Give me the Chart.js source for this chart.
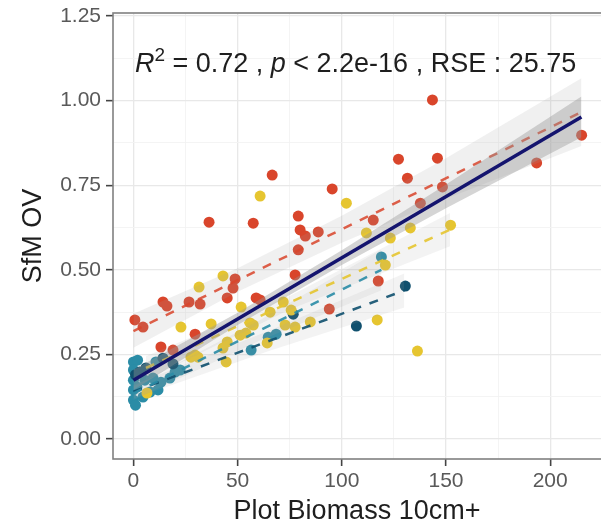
<!DOCTYPE html>
<html>
<head>
<meta charset="utf-8">
<script src="https://cdn.jsdelivr.net/npm/chart.js@4.4.0/dist/chart.umd.min.js"></script>
<style>
  html, body { margin: 0; padding: 0; background: #fff; }
</style>
</head>
<body>
<canvas id="chart" width="601" height="525"></canvas>
<script>
// axis ticks
const xTickValues = [0, 50, 100, 150, 200];
const xTickLabels = ['0', '50', '100', '150', '200'];
const xGridValues = [0, 25, 50, 75, 100, 125, 150, 175, 200];
const yTickValues = [0, 0.25, 0.5, 0.75, 1, 1.25];
const yTickLabels = ['0.00', '0.25', '0.50', '0.75', '1.00', '1.25'];
const yGridValues = [0, 0.125, 0.25, 0.375, 0.5, 0.625, 0.75, 0.875, 1, 1.125, 1.25];

// points
const redX = [0.7, 4.6, 14.2, 16.1, 26.7, 32, 13.2, 19, 29.6, 36.3, 57.5, 48.8, 47.8, 45, 58.9, 60.8, 66.6, 79.1, 80, 82.5, 88.7, 79.1, 77.6, 95.4, 115.1, 137.7, 117.5, 94, 127.2, 131.5, 145.9, 148.3, 143.5, 193.5, 215.1];
const redY = [0.352, 0.331, 0.405, 0.393, 0.405, 0.399, 0.272, 0.263, 0.31, 0.641, 0.638, 0.473, 0.446, 0.417, 0.417, 0.411, 0.78, 0.659, 0.618, 0.6, 0.612, 0.559, 0.485, 0.739, 0.647, 0.697, 0.467, 0.384, 0.827, 0.771, 0.83, 0.745, 1.002, 0.816, 0.898];

const yellowX = [60.8, 102.2, 43, 31.5, 51.7, 22.8, 37.3, 6.5, 29.6, 31, 45, 43, 44.5, 51.2, 56, 65.6, 71.9, 64.2, 57.5, 27.6, 54, 111.8, 123.3, 132.9, 120.9, 75.7, 72.8, 77.6, 84.9, 117, 136.3, 152.2];
const yellowY = [0.718, 0.697, 0.482, 0.449, 0.39, 0.331, 0.34, 0.136, 0.248, 0.242, 0.287, 0.269, 0.228, 0.307, 0.343, 0.375, 0.405, 0.284, 0.337, 0.242, 0.313, 0.609, 0.594, 0.624, 0.514, 0.381, 0.337, 0.331, 0.346, 0.352, 0.26, 0.632];

const tealX = [0, 2, 0, 0, 0, 0, 1, 5.5, 9.4, 13.2, 17.5, 20, 22.4, 11.8, 4.6, 10.8, 1.7, 8, 56.5, 64.7, 68.5, 119];
const tealY = [0.228, 0.233, 0.204, 0.174, 0.145, 0.115, 0.1, 0.174, 0.18, 0.168, 0.18, 0.198, 0.204, 0.145, 0.124, 0.228, 0.154, 0.139, 0.263, 0.301, 0.31, 0.538];

const darkX = [14.2, 3, 107, 130.5, 76.7, 6, 1, 19];
const darkY = [0.239, 0.198, 0.334, 0.452, 0.369, 0.21, 0.19, 0.222];

// fitted lines (end points)
const allFitX = [0, 215];
const allFitY = [0.174, 0.952];
const redFitX = [0, 215];
const redFitY = [0.319, 0.966];
const yellowFitX = [6, 152];
const yellowFitY = [0.21, 0.619];
const tealFitX = [0, 119];
const tealFitY = [0.135, 0.5];
const darkFitX = [0, 130];
const darkFitY = [0.14, 0.439];

// confidence bands
const allBandX = [0, 50, 100, 150, 215];
const allBandLo = [0.145, 0.337, 0.514, 0.682, 0.892];
const allBandHi = [0.205, 0.373, 0.558, 0.752, 1.012];
const redBandX = [0, 50, 100, 150, 215];
const redBandLo = [0.27, 0.435, 0.58, 0.71, 0.866];
const redBandHi = [0.37, 0.505, 0.66, 0.83, 1.066];
const yellowBandX = [6, 75, 152];
const yellowBandLo = [0.175, 0.383, 0.57];
const yellowBandHi = [0.245, 0.423, 0.668];
const tealBandX = [0, 60, 119];
const tealBandLo = [0.115, 0.289, 0.44];
const tealBandHi = [0.155, 0.349, 0.56];
const darkBandX = [0, 65, 130];
const darkBandLo = [0.12, 0.26, 0.389];
const darkBandHi = [0.16, 0.32, 0.489];

const annoX = 0.7;
const annoY = 1.085;

const RED = '#D9452B', YELLOW = '#E6C530', TEAL = '#2A8CA6', DARK = '#10506E';
const FONT = '"Liberation Sans", Arial, sans-serif';

function pts(xs, ys) {
    return xs.map((x, i) => ({x: x, y: ys[i]}));
}

function pointSet(xs, ys, color, order) {
    return {data: pts(xs, ys), backgroundColor: color, borderWidth: 0, pointRadius: 5.5, pointHoverRadius: 5.5, order: order};
}

function lineSet(xs, ys, color, width, dash, order) {
    return {data: pts(xs, ys), showLine: true, borderColor: color, borderWidth: width, borderDash: dash, pointRadius: 0, fill: false, order: order};
}

function bandSets(xs, lo, hi, fillColor, order) {
    return [
        {data: pts(xs, lo), showLine: true, borderWidth: 0, borderColor: 'rgba(0,0,0,0)', pointRadius: 0, fill: false, order: order},
        {data: pts(xs, hi), showLine: true, borderWidth: 0, borderColor: 'rgba(0,0,0,0)', pointRadius: 0, fill: '-1', backgroundColor: fillColor, order: order}
    ];
}

const datasets = [
    pointSet(tealX, tealY, TEAL, 9),
    pointSet(darkX, darkY, DARK, 8),
    pointSet(yellowX, yellowY, YELLOW, 7),
    pointSet(redX, redY, RED, 6),
    ...bandSets(yellowBandX, yellowBandLo, yellowBandHi, 'rgba(160,160,160,0.13)', 4),
    ...bandSets(tealBandX, tealBandLo, tealBandHi, 'rgba(160,160,160,0.13)', 4),
    ...bandSets(darkBandX, darkBandLo, darkBandHi, 'rgba(160,160,160,0.13)', 4),
    ...bandSets(redBandX, redBandLo, redBandHi, 'rgba(160,160,160,0.16)', 4),
    lineSet(yellowFitX, yellowFitY, 'rgba(230,197,48,0.9)', 2.5, [9, 9], 3),
    lineSet(tealFitX, tealFitY, 'rgba(42,140,166,0.9)', 2.5, [9, 9], 3),
    lineSet(darkFitX, darkFitY, 'rgba(16,80,110,0.9)', 2.5, [9, 9], 3),
    lineSet(redFitX, redFitY, 'rgba(217,69,43,0.85)', 2.5, [9, 9], 3),
    ...bandSets(allBandX, allBandLo, allBandHi, 'rgba(150,150,150,0.4)', 1),
    lineSet(allFitX, allFitY, '#14146e', 3.5, [], 0)
];

const panelBorder = {
    id: 'panelBorder',
    afterDatasetsDraw(chart) {
        const {ctx, chartArea} = chart;
        ctx.save();
        ctx.strokeStyle = '#808080';
        ctx.lineWidth = 1.6;
        ctx.strokeRect(chartArea.left, chartArea.top, chartArea.right - chartArea.left + 2, chartArea.bottom - chartArea.top);
        ctx.restore();
    }
};

const annotation = {
    id: 'annotation',
    afterDraw(chart) {
        const ctx = chart.ctx;
        let px = chart.scales.x.getPixelForValue(annoX);
        const py = chart.scales.y.getPixelForValue(annoY);
        const size = 27;
        const parts = [
            {t: 'R', font: 'italic ' + size + 'px ' + FONT, dy: 0},
            {t: '2', font: Math.round(size * 0.7) + 'px ' + FONT, dy: -size * 0.42},
            {t: ' = 0.72 , ', font: size + 'px ' + FONT, dy: 0},
            {t: 'p', font: 'italic ' + size + 'px ' + FONT, dy: 0},
            {t: ' < 2.2e-16 , RSE : 25.75', font: size + 'px ' + FONT, dy: 0}
        ];
        ctx.save();
        ctx.fillStyle = '#1e1e1e';
        ctx.textBaseline = 'alphabetic';
        ctx.textAlign = 'left';
        parts.forEach(p => {
            ctx.font = p.font;
            ctx.fillText(p.t, px, py + p.dy);
            px += ctx.measureText(p.t).width;
        });
        ctx.restore();
    }
};

new Chart(document.getElementById('chart'), {
    type: 'scatter',
    data: {datasets: datasets},
    options: {
        responsive: false,
        animation: false,
        layout: {autoPadding: false, padding: {top: 13, right: 0, left: 0, bottom: 0}},
        plugins: {legend: {display: false}, tooltip: {enabled: false}},
        scales: {
            x: {
                type: 'linear',
                min: -9.8,
                max: 224.4,
                afterBuildTicks: axis => { axis.ticks = xGridValues.map(v => ({value: v})); },
                afterFit: axis => { axis.height = 66; axis.paddingLeft = 0; axis.paddingRight = 0; },
                border: {display: false},
                grid: {
                    color: ctx => xTickValues.includes(ctx.tick.value) ? '#e8e8e8' : '#f3f3f3',
                    lineWidth: ctx => xTickValues.includes(ctx.tick.value) ? 1.3 : 0.9,
                    tickColor: ctx => xTickValues.includes(ctx.tick.value) ? '#444' : 'rgba(0,0,0,0)',
                    tickLength: 7,
                    tickWidth: 1.6
                },
                ticks: {
                    autoSkip: false,
                    maxRotation: 0,
                    padding: 3,
                    color: '#595959',
                    font: {family: FONT, size: 21},
                    callback: v => { const i = xTickValues.indexOf(v); return i >= 0 ? xTickLabels[i] : ''; }
                },
                title: {
                    display: true,
                    text: 'Plot Biomass 10cm+',
                    color: '#1e1e1e',
                    font: {family: FONT, size: 27, lineHeight: 1},
                    padding: {top: 0, bottom: 0}
                }
            },
            y: {
                type: 'linear',
                min: -0.059,
                max: 1.259,
                afterBuildTicks: axis => { axis.ticks = yGridValues.map(v => ({value: v})); },
                afterFit: axis => { axis.width = 113; axis.paddingTop = 0; axis.paddingBottom = 0; },
                border: {display: false},
                grid: {
                    color: ctx => yTickValues.includes(ctx.tick.value) ? '#e8e8e8' : '#f3f3f3',
                    lineWidth: ctx => yTickValues.includes(ctx.tick.value) ? 1.3 : 0.9,
                    tickColor: ctx => yTickValues.includes(ctx.tick.value) ? '#444' : 'rgba(0,0,0,0)',
                    tickLength: 7,
                    tickWidth: 1.6
                },
                ticks: {
                    autoSkip: false,
                    padding: 5,
                    color: '#595959',
                    font: {family: FONT, size: 21},
                    callback: v => { const i = yTickValues.indexOf(v); return i >= 0 ? yTickLabels[i] : ''; }
                },
                title: {
                    display: true,
                    text: 'SfM OV',
                    color: '#1e1e1e',
                    font: {family: FONT, size: 27, lineHeight: 1},
                    padding: {top: 20, bottom: 0}
                }
            }
        }
    },
    plugins: [panelBorder, annotation]
});
</script>
</body>
</html>
